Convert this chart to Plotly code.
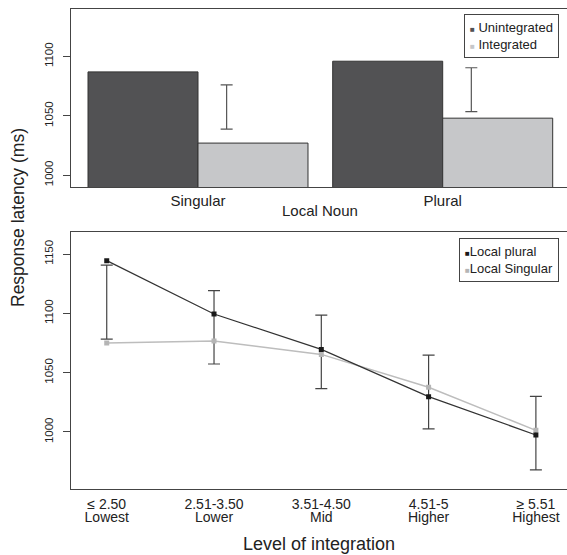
import plotly.graph_objects as go

# ---------------- data ----------------
local_noun = ["Singular", "Plural"]
unintegrated = [1087, 1096]
integrated = [1027, 1048]
bar_ci_center = [1057.4, 1072.0]
bar_ci_half = [18.6, 18.5]

level_ranges = ["≤ 2.50", "2.51-3.50", "3.51-4.50", "4.51-5", "≥ 5.51"]
level_names = ["Lowest", "Lower", "Mid", "Higher", "Highest"]
local_plural = [1144.4, 1099.4, 1069.6, 1029.8, 997.5]
local_singular = [1075.0, 1076.6, 1065.4, 1037.7, 1001.4]
line_ci_center = [1109.5, 1088.2, 1067.5, 1033.7, 999.0]
line_ci_half = [31.2, 30.9, 31.0, 31.0, 31.0]

# ---------------- style ----------------
FONT = "Liberation Sans, Arial, sans-serif"
DARK = "#525254"
LIGHT = "#c6c7c9"
AXC = "#444444"
TXT = "#222222"

grp = list(range(len(local_noun)))
ci_offset = 0.117
lvl = list(range(len(level_ranges)))
XR2 = [-0.333, 4.29]

fig = go.Figure()

# top panel bars
fig.add_trace(go.Bar(x=grp, y=unintegrated, name="Unintegrated",
                     marker=dict(color=DARK, line=dict(color="#333333", width=1)),
                     xaxis="x", yaxis="y", showlegend=False))
fig.add_trace(go.Bar(x=grp, y=integrated, name="Integrated",
                     marker=dict(color=LIGHT, line=dict(color="#333333", width=1)),
                     xaxis="x", yaxis="y", showlegend=False))
fig.add_trace(go.Scatter(x=[g + ci_offset for g in grp], y=bar_ci_center, mode="markers",
                         marker=dict(size=1, color="rgba(0,0,0,0)"),
                         error_y=dict(type="data", array=bar_ci_half, color="#555555",
                                      thickness=1.2, width=6),
                         xaxis="x", yaxis="y", showlegend=False, hoverinfo="skip"))

# bottom panel
fig.add_trace(go.Scatter(x=lvl, y=line_ci_center, mode="markers",
                         marker=dict(size=1, color="rgba(0,0,0,0)"),
                         error_y=dict(type="data", array=line_ci_half, color="#444444",
                                      thickness=1.2, width=6),
                         xaxis="x2", yaxis="y2", showlegend=False, hoverinfo="skip"))
fig.add_trace(go.Scatter(x=lvl, y=local_singular, mode="lines+markers", name="Local Singular",
                         line=dict(color="#bdbdbd", width=1.5),
                         marker=dict(symbol="square", size=5, color="#b5b5b5"),
                         xaxis="x2", yaxis="y2", showlegend=False))
fig.add_trace(go.Scatter(x=lvl, y=local_plural, mode="lines+markers", name="Local plural",
                         line=dict(color="#333333", width=1.2),
                         marker=dict(symbol="square", size=5, color="#1a1a1a"),
                         xaxis="x2", yaxis="y2", showlegend=False))
# invisible trace to carry the second tick-label row
fig.add_trace(go.Scatter(x=lvl, y=[None] * len(lvl), mode="markers",
                         xaxis="x3", yaxis="y2", showlegend=False, hoverinfo="skip"))

axis_common = dict(showline=True, linecolor=AXC, linewidth=1, showgrid=False,
                   zeroline=False, tickfont=dict(family=FONT, size=15, color=TXT))

H_PLOT = 555 - 9 - 20


def py(px):
    return 1 - (px - 9) / H_PLOT


fig.update_layout(
    width=567, height=555,
    margin=dict(l=71, r=0, t=9, b=20),
    paper_bgcolor="white", plot_bgcolor="white",
    font=dict(family=FONT, color=TXT),
    barmode="group", bargap=0.101, bargroupgap=0,
    xaxis=dict(axis_common, domain=[0, 1], anchor="y", range=[-0.519, 1.508],
               mirror=True, ticks="", tickvals=grp, ticktext=local_noun),
    yaxis=dict(axis_common, domain=[py(187), 1], anchor="x", range=[990, 1140],
               tickvals=[1000, 1050, 1100], ticks="outside", ticklen=7,
               tickcolor=AXC, tickangle=-90, ticklabelstandoff=5,
               tickfont=dict(family=FONT, size=11.5, color=TXT)),
    xaxis2=dict(axis_common, domain=[0, 1], anchor="y2", range=XR2,
                mirror=True, ticks="", tickvals=lvl, ticktext=level_ranges,
                ticklabelstandoff=2,
                tickfont=dict(family=FONT, size=14, color=TXT)),
    xaxis3=dict(showline=False, showgrid=False, zeroline=False, ticks="",
                overlaying="x2", anchor="free", position=py(507), side="bottom",
                range=XR2, tickvals=lvl, ticktext=level_names,
                tickfont=dict(family=FONT, size=14, color=TXT),
                title=dict(text="Level of integration",
                           font=dict(family=FONT, size=18, color=TXT), standoff=13)),
    yaxis2=dict(axis_common, domain=[py(489.3), py(232.3)], anchor="x2",
                range=[951.7, 1168.3],
                tickvals=[1000, 1050, 1100, 1150], ticks="outside", ticklen=7,
                tickcolor=AXC, tickangle=-90, ticklabelstandoff=5,
                tickfont=dict(family=FONT, size=11.5, color=TXT)),
    annotations=[
        dict(text="Response latency (ms)", xref="paper", yref="paper",
             x=(18 - 71) / 496, y=py(218), xanchor="center", yanchor="middle",
             textangle=-90, showarrow=False,
             font=dict(family=FONT, size=17.5, color=TXT)),
        dict(text="Local Noun", xref="paper", yref="paper",
             x=(320 - 71) / 496, y=py(210), xanchor="center", yanchor="middle",
             showarrow=False, font=dict(family=FONT, size=15, color=TXT)),
        dict(text=f'<span style="color:{DARK};font-size:8px">■</span> Unintegrated<br>'
                  f'<span style="color:{LIGHT};font-size:8px">■</span> Integrated',
             xref="paper", yref="paper", x=(559 - 71) / 496, y=py(14), xanchor="right",
             yanchor="top", align="left", showarrow=False,
             bordercolor="#444444", borderwidth=1, borderpad=5, bgcolor="white",
             font=dict(family=FONT, size=13, color=TXT)),
        dict(text='<span style="color:#1a1a1a;font-size:8px">■</span>Local plural<br>'
                  '<span style="color:#b5b5b5;font-size:8px">■</span>Local Singular',
             xref="paper", yref="paper", x=(559 - 71) / 496, y=py(238.3), xanchor="right",
             yanchor="top", align="left", showarrow=False,
             bordercolor="#444444", borderwidth=1, borderpad=5, bgcolor="white",
             font=dict(family=FONT, size=13, color=TXT)),
    ],
)

fig.write_html("out.html", config={"displayModeBar": False},
               post_script="document.body.style.margin='0px';")
